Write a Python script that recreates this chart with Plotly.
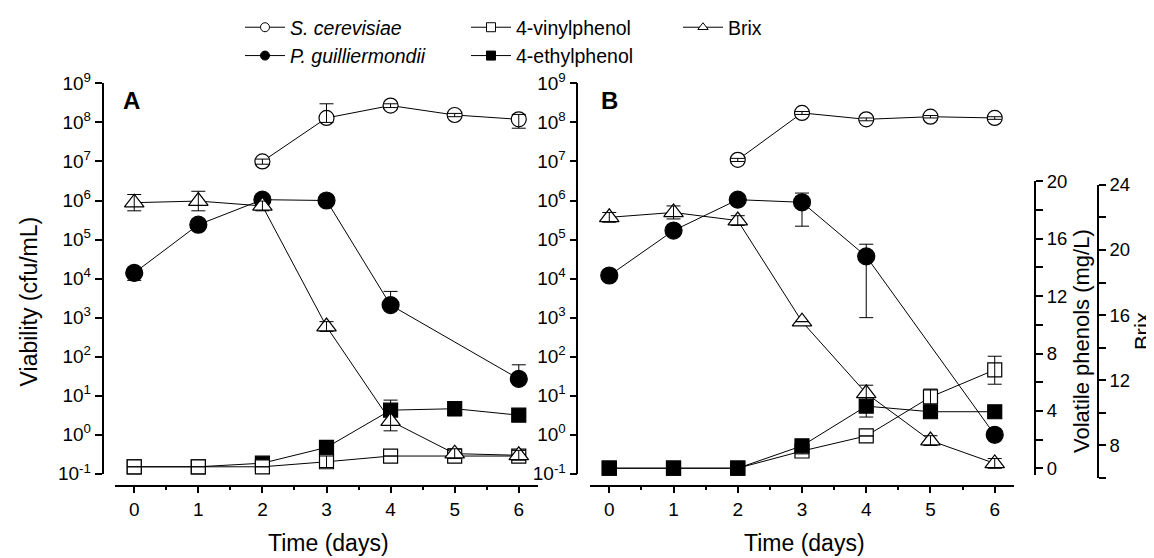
import plotly.graph_objects as go

W, H = 1154, 558
FONT = "Arial, Liberation Sans, sans-serif"

days = [0, 1, 2, 3, 4, 5, 6]

# ---------------- Panel A ----------------
a_scer = [None, None, 1.0e7, 1.3e8, 2.7e8, 1.55e8, 1.2e8]
a_scer_up = [0, 0, 1.5e6, 1.7e8, 3e7, 1.5e7, 4e7]
a_scer_dn = [0, 0, 1.5e6, 3e7, 3e7, 1.5e7, 4.9e7]

a_pgui = [1.4e4, 2.4e5, 1.05e6, 1.0e6, 2.1e3, None, 27]
a_pgui_up = [3e3, 3e4, 1e5, 1e5, 2.6e3, 0, 35]
a_pgui_dn = [5e3, 5e4, 1e5, 1e5, 5e2, 0, 5]

a_brix = [22.9, 23.0, 22.7, 15.3, 9.5, 7.5, 7.4]
a_brix_up = [0.5, 0.6, 0.3, 0.3, 0.6, 0.3, 0.3]
a_brix_dn = [0.5, 0.6, 0.3, 0.3, 0.6, 0.3, 0.3]

a_vp = [0.1, 0.1, 0.1, 0.45, 0.85, 0.85, 0.85]
a_vp_up = [0, 0, 0, 0.4, 0, 0.1, 0.1]
a_vp_dn = [0, 0, 0, 0.4, 0, 0.1, 0.1]

a_ep = [0.1, 0.1, 0.35, 1.45, 4.05, 4.15, 3.7]
a_ep_up = [0, 0, 0, 0, 0.7, 0.5, 0.2]
a_ep_dn = [0, 0, 0, 0, 0.3, 0.5, 0.2]

# ---------------- Panel B ----------------
b_scer = [None, None, 1.1e7, 1.75e8, 1.2e8, 1.4e8, 1.3e8]
b_scer_up = [0, 0, 1e6, 1.5e7, 1e7, 1e7, 1e7]
b_scer_dn = [0, 0, 1e6, 1.5e7, 1e7, 1e7, 1e7]

b_pgui = [1.2e4, 1.7e5, 1.05e6, 9.0e5, 3.7e4, None, 1.0]
b_pgui_up = [1e3, 1e4, 1e5, 6.5e5, 3.9e4, 0, 0.1]
b_pgui_dn = [1e3, 1e4, 1e5, 6.8e5, 3.6e4, 0, 0.1]

b_brix = [22.0, 22.3, 21.8, 15.6, 11.2, 8.3, 6.9]
b_brix_up = [0.3, 0.4, 0.3, 0, 0.5, 0.3, 0.3]
b_brix_dn = [0.3, 0.4, 0.3, 0, 0.5, 0.3, 0.3]

b_vp = [0, 0, 0, 1.2, 2.25, 4.97, 6.86]
b_vp_up = [0, 0, 0, 0.2, 0, 0.55, 0.95]
b_vp_dn = [0, 0, 0, 0.2, 0, 0.7, 1.0]

b_ep = [0, 0, 0, 1.56, 4.33, 3.94, 3.94]
b_ep_up = [0, 0, 0, 0.2, 0.77, 0.2, 0.1]
b_ep_dn = [0, 0, 0, 0.3, 0.76, 0.2, 0.1]

# ---------------- axis ticks ----------------
log_tickvals = [1e-1, 1e0, 1e1, 1e2, 1e3, 1e4, 1e5, 1e6, 1e7, 1e8, 1e9]
log_ticktext = ["10<sup>-1</sup>", "10<sup>0</sup>", "10<sup>1</sup>", "10<sup>2</sup>",
                "10<sup>3</sup>", "10<sup>4</sup>", "10<sup>5</sup>", "10<sup>6</sup>",
                "10<sup>7</sup>", "10<sup>8</sup>", "10<sup>9</sup>"]
phenol_ticks = [0, 4, 8, 12, 16, 20]
brix_ticks = [8, 12, 16, 20, 24]

names = {
    "scer": "<i>S. cerevisiae</i>",
    "pgui": "<i>P. guilliermondii</i>",
    "vp": "4-vinylphenol",
    "ep": "4-ethylphenol",
    "brix": "Brix",
}

# pixel helpers for layout placement
def px(x):
    return x / W

def py(y):
    return (H - y) / H

styles = {
    "scer": dict(symbol="circle", size=15, fill="white"),
    "pgui": dict(symbol="circle", size=17, fill="black"),
    "vp": dict(symbol="square", size=14, fill="white"),
    "ep": dict(symbol="square", size=14, fill="black"),
    "brix": dict(symbol="triangle-up", size=17, fill="white"),
}

fig = go.Figure()


def add(key, y, up, dn, xa, ya):
    st = styles[key]
    # line + symbols
    fig.add_trace(go.Scatter(
        x=days, y=y, mode="lines+markers", connectgaps=True,
        xaxis=xa, yaxis=ya, showlegend=False, cliponaxis=False,
        line=dict(color="black", width=1),
        marker=dict(symbol=st["symbol"], size=st["size"], color=st["fill"],
                    line=dict(color="black", width=1.2)),
        name=names[key], hoverinfo="skip",
    ))
    # error bars drawn on top of the symbols (as in the original)
    fig.add_trace(go.Scatter(
        x=days, y=y, mode="markers", xaxis=xa, yaxis=ya, showlegend=False,
        cliponaxis=False, marker=dict(size=1, opacity=0, color="black"),
        error_y=dict(type="data", symmetric=False, array=up, arrayminus=dn,
                     color="black", thickness=1, width=7),
        name=names[key],
    ))


# Panel A (order chosen for overlap)
add("pgui", a_pgui, a_pgui_up, a_pgui_dn, "x", "y")
add("brix", a_brix, a_brix_up, a_brix_dn, "x", "y6")
add("ep", a_ep, a_ep_up, a_ep_dn, "x", "y5")
add("vp", a_vp, a_vp_up, a_vp_dn, "x", "y5")
add("scer", a_scer, a_scer_up, a_scer_dn, "x", "y")

# Panel B
add("brix", b_brix, b_brix_up, b_brix_dn, "x2", "y4")
add("vp", b_vp, b_vp_up, b_vp_dn, "x2", "y3")
add("ep", b_ep, b_ep_up, b_ep_dn, "x2", "y3")
add("scer", b_scer, b_scer_up, b_scer_dn, "x2", "y2")
add("pgui", b_pgui, b_pgui_up, b_pgui_dn, "x2", "y2")

# legend-only entries
legend_of = {"scer": "legend", "pgui": "legend", "vp": "legend2", "ep": "legend2", "brix": "legend3"}
for rank, key in enumerate(["scer", "pgui", "vp", "ep", "brix"]):
    st = styles[key]
    fig.add_trace(go.Scatter(
        x=[None], y=[None], mode="lines+markers", name=names[key],
        legend=legend_of[key], legendrank=rank + 1, showlegend=True,
        line=dict(color="black", width=1),
        marker=dict(symbol=st["symbol"], size=9, color=st["fill"], line=dict(color="black", width=1)),
    ))

axis_common = dict(showline=True, linecolor="black", linewidth=1.5, ticks="outside",
                   tickwidth=1.5, tickcolor="black", showgrid=False, zeroline=False,
                   automargin=False, tickfont=dict(family=FONT, size=19, color="black"))

xcommon = dict(axis_common, range=[-0.3, 6.3], tickvals=days, ticklen=7, anchor="free",
               position=py(477),
               minor=dict(dtick=0.5, tick0=0, ticks="outside", ticklen=4, tickwidth=1.5,
                          tickcolor="black", showgrid=False))

ycommon = dict(axis_common, type="log", range=[-1, 9], tickvals=log_tickvals,
               ticktext=log_ticktext, ticklen=7, anchor="free",
               domain=[py(465), py(71)])

phen_dom = [py(465.7), py(170)]
brix_dom = [py(469.3), py(173.3)]

right_minor = dict(dtick=2, tick0=0, ticks="outside", ticklen=7, tickwidth=1.5,
                   tickcolor="black", showgrid=False)

legend_common = dict(y=py(-5), xanchor="left", yanchor="top", bgcolor="rgba(0,0,0,0)",
                     font=dict(family=FONT, size=19.5, color="black"), tracegroupgap=0,
                     itemwidth=40)

fig.update_layout(
    width=W, height=H, autosize=False,
    margin=dict(l=0, r=0, t=0, b=0),
    paper_bgcolor="white", plot_bgcolor="rgba(0,0,0,0)",
    font=dict(family=FONT, color="black", size=19),
    xaxis=dict(xcommon, domain=[px(107), px(530)]),
    xaxis2=dict(xcommon, domain=[px(582), px(1006)]),
    yaxis=dict(ycommon, position=px(94.5)),
    yaxis2=dict(ycommon, position=px(569.3)),
    yaxis3=dict(axis_common, domain=phen_dom, range=[-0.44, 20], anchor="free",
                position=px(1027.3), side="right", tickvals=phenol_ticks, ticklen=7,
                tickfont=dict(family=FONT, size=18.5, color="black"), minor=right_minor),
    yaxis4=dict(axis_common, domain=brix_dom, range=[6, 24], anchor="free",
                position=px(1090), side="right", tickvals=brix_ticks, ticklen=7,
                tickfont=dict(family=FONT, size=18.5, color="black"), minor=right_minor),
    yaxis5=dict(domain=phen_dom, range=[-0.44, 20], anchor="free", position=px(94.5),
                visible=False),
    yaxis6=dict(domain=brix_dom, range=[6, 24], anchor="free", position=px(94.5),
                visible=False),
    legend=dict(legend_common, x=px(232)),
    legend2=dict(legend_common, x=px(458)),
    legend3=dict(legend_common, x=px(670)),
)

ann = [
    dict(text="<b>A</b>", x=px(123), y=py(88), size=24, angle=0),
    dict(text="<b>B</b>", x=px(601), y=py(88), size=24, angle=0),
    dict(text="Viability (cfu/mL)", x=px(21), y=py(291), size=23, angle=-90),
    dict(text="Time (days)", x=px(320), y=py(535), size=23, angle=0),
    dict(text="Time (days)", x=px(796), y=py(535), size=23, angle=0),
    dict(text="Volatile phenols (mg/L)", x=px(1073), y=py(331), size=22, angle=-90),
    dict(text="Brix", x=px(1134), y=py(321), size=22, angle=-90),
]
for a in ann:
    fig.add_annotation(text=a["text"], x=a["x"], y=a["y"], xref="paper", yref="paper",
                       showarrow=False, textangle=a["angle"], xanchor="center", yanchor="middle",
                       font=dict(family=FONT, size=a["size"], color="black"))

fig.write_html("out.html")
